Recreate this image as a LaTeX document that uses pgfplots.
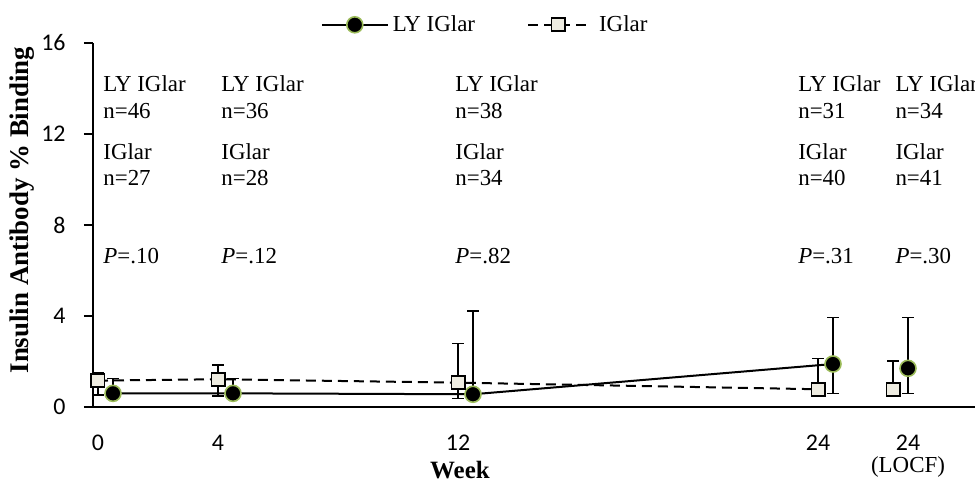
\documentclass[border=0pt]{standalone}
\usepackage{pgfplots}
\pgfplotsset{compat=1.18}
\usepackage{fontspec}
\setmainfont{Liberation Serif}
\newfontfamily\carlito{Carlito}
\definecolor{lygreen}{HTML}{9BBB59}
\definecolor{sqfill}{HTML}{EEECE1}
\pgfplotsset{
 legLY/.style={legend image code/.code={\draw[##1,mark repeat=2,mark phase=2] plot coordinates {(0bp,0bp) (16.5bp,0bp) (33bp,0bp)};}},
 legIG/.style={legend image code/.code={\draw[##1,mark repeat=2,mark phase=2] plot coordinates {(0bp,0bp) (15bp,0bp) (30bp,0bp)}; \path (33bp,0bp);}},
 ebars/.style={error bars/y dir=both, error bars/y explicit,
   error bars/error bar style={line width=0.75bp, black, solid},
   error bars/error mark options={rotate=90, mark size=2.8bp, line width=0.75bp, black, solid}},
 lystyle/.style={black, line width=1bp, mark=*, mark size=4bp,
   mark options={solid, fill=black, draw=lygreen, line width=0.8bp}, ebars},
 igstyle/.style={black, line width=1bp, dash pattern=on 5bp off 3bp, mark=square*, mark size=3.3bp,
   mark options={solid, fill=sqfill, draw=black, line width=0.9bp}, ebars},
}
\begin{document}
\begin{tikzpicture}
\begin{axis}[name=ax,
  scale only axis, width=441bp, height=182bp,
  xmin=-0.1667, xmax=29.233, ymin=0, ymax=16,
  axis x line=bottom, axis y line=left,
  axis line style={-, line width=0.75bp, black},
  clip=false,
  ytick={0,4,8,12,16},
  xtick={0,4,12,24,27},
  xticklabels={0,4,12,24,{24\\[-1pt]{\fontsize{11.5}{12}\selectfont\rmfamily(LOCF)}}},
  /pgf/number format/assume math mode=true,
  tick label style={font=\fontsize{12}{12}\selectfont\carlito},
  xticklabel style={anchor=north, inner sep=0pt, yshift=-9.5bp, align=center},
  yticklabel style={anchor=east, inner sep=0pt, xshift=-9bp},
  major x tick style={draw=none},
  ytick style={line width=0.75bp, black},
  tick align=outside, major tick length=4.5bp,
  xlabel={\textbf{Week}},
  xlabel style={at={(axis description cs:0.416,-0.197)}, anchor=base, font=\fontsize{12.5}{14}\selectfont},
  ylabel={\textbf{Insulin Antibody \% Binding}},
  ylabel style={at={(axis description cs:-0.0805,0.541)}, anchor=center, font=\fontsize{13.5}{15}\selectfont},
  legend style={at={(axis description cs:0.4457,1.05)}, anchor=center, draw=none, fill=none,
    legend columns=2, font=\fontsize{11.5}{13}\selectfont,
    /tikz/every even column/.append style={column sep=24bp}},
  legend cell align=left,
]
% LY IGlar
\addplot+[lystyle, legLY] coordinates {
 (0.5,0.60) += (0,0.66) -= (0,0.2)
 (4.5,0.60) += (0,0.66) -= (0,0.2)
 (12.5,0.56) += (0,3.66) -= (0,0.2)
 (24.5,1.89) += (0,2.04) -= (0,1.29)
};
\addlegendentry{LY IGlar}
% IGlar
\addplot+[igstyle, legIG] coordinates {
 (0,1.16) += (0,0.35) -= (0,0.63)
 (4,1.22) += (0,0.63) -= (0,0.74)
 (12,1.07) += (0,1.73) -= (0,0.69)
 (24,0.78) += (0,1.36) -= (0,0)
};
\addlegendentry{IGlar}
% LOCF
\addplot+[igstyle, only marks, forget plot] coordinates {
 (26.5,0.78) += (0,1.25) -= (0,0)
};
\addplot+[lystyle, only marks, forget plot] coordinates {
 (27,1.70) += (0,2.23) -= (0,1.10)
};
% annotations
\begin{scope}[every node/.style={anchor=base west, inner sep=0pt, font=\fontsize{11.5}{13}\selectfont}]
\node at (axis cs:0.167,13.85) {LY IGlar};
\node at (axis cs:0.167,12.7) {n=46};
\node at (axis cs:0.167,10.9) {IGlar};
\node at (axis cs:0.167,9.72) {n=27};
\node at (axis cs:0.167,6.3) {\textit{P}=.10};
\node at (axis cs:4.1,13.85) {LY IGlar};
\node at (axis cs:4.1,12.7) {n=36};
\node at (axis cs:4.1,10.9) {IGlar};
\node at (axis cs:4.1,9.72) {n=28};
\node at (axis cs:4.1,6.3) {\textit{P}=.12};
\node at (axis cs:11.9,13.85) {LY IGlar};
\node at (axis cs:11.9,12.7) {n=38};
\node at (axis cs:11.9,10.9) {IGlar};
\node at (axis cs:11.9,9.72) {n=34};
\node at (axis cs:11.9,6.3) {\textit{P}=.82};
\node at (axis cs:23.33,13.85) {LY IGlar};
\node at (axis cs:23.33,12.7) {n=31};
\node at (axis cs:23.33,10.9) {IGlar};
\node at (axis cs:23.33,9.72) {n=40};
\node at (axis cs:23.33,6.3) {\textit{P}=.31};
\node at (axis cs:26.57,13.85) {LY IGlar};
\node at (axis cs:26.57,12.7) {n=34};
\node at (axis cs:26.57,10.9) {IGlar};
\node at (axis cs:26.57,9.72) {n=41};
\node at (axis cs:26.57,6.3) {\textit{P}=.30};
\end{scope}
\end{axis}
\pgfresetboundingbox
\useasboundingbox ([xshift=-46.5bp,yshift=-37.5bp]ax.south west) rectangle ([yshift=21.5bp]ax.north east);
\end{tikzpicture}
\end{document}
